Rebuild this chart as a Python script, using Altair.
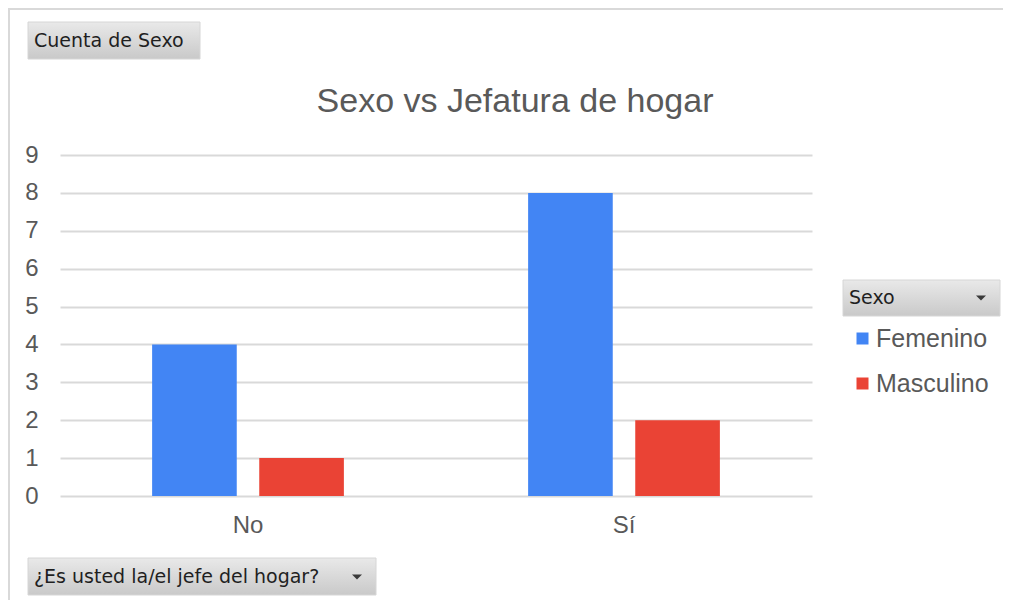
import altair as alt
import pandas as pd

# ---- data ----
jefe = ["No", "No", "Sí", "Sí"]
sexo = ["Femenino", "Masculino", "Femenino", "Masculino"]
cuenta = [4, 1, 8, 2]
categorias = ["No", "Sí"]
sexos = ["Femenino", "Masculino"]
colores = ["#4285F4", "#EA4335"]
y_ticks = [0, 1, 2, 3, 4, 5, 6, 7, 8, 9]
titulo = "Sexo vs Jefatura de hogar"
boton_valores = "Cuenta de Sexo"
boton_eje = "¿Es usted la/el jefe del hogar?"
boton_leyenda = "Sexo"

df = pd.DataFrame({"jefe": jefe, "sexo": sexo, "cuenta": cuenta})
one = pd.DataFrame({"k": [0]})

W, H = 752, 341
FONT = "Liberation Sans"
BFONT = "DejaVu Sans"
GRAY = "#595959"
grad = alt.LinearGradient(
    gradient="linear", x1=0, x2=0, y1=0, y2=1,
    stops=[alt.GradientStop(color="#e9e9e9", offset=0),
           alt.GradientStop(color="#c9c9c9", offset=1)],
)

bars = alt.Chart(df).mark_bar().encode(
    x=alt.X("jefe:N", sort=categorias,
            scale=alt.Scale(paddingInner=0.49, paddingOuter=0.245),
            axis=alt.Axis(title=None, labelAngle=0, domain=False, ticks=False,
                          labelFontSize=24, labelColor=GRAY, labelFont=FONT,
                          labelPadding=17)),
    xOffset=alt.XOffset("sexo:N", sort=sexos, scale=alt.Scale(paddingInner=0.21)),
    y=alt.Y("cuenta:Q", scale=alt.Scale(domain=[0, 9]),
            axis=alt.Axis(title=None, values=y_ticks, domain=False, ticks=False,
                          gridColor="#d9d9d9", gridWidth=2,
                          labelFontSize=24, labelColor=GRAY, labelFont=FONT,
                          labelPadding=22)),
    color=alt.Color("sexo:N", sort=sexos,
                    scale=alt.Scale(domain=sexos, range=colores),
                    legend=alt.Legend(title=None, orient="none", legendX=790, legendY=171,
                                      symbolType="square", symbolSize=144,
                                      symbolStrokeWidth=0, labelFontSize=25,
                                      labelFont=FONT, labelColor=GRAY, labelOffset=1,
                                      rowPadding=19, padding=0)),
)


def button(x1, x2, y1, y2):
    return alt.Chart(one).mark_rect(color=grad, stroke="#d6d6d6", strokeWidth=1).encode(
        x=alt.value(x1), x2=alt.value(x2), y=alt.value(y1), y2=alt.value(y2))


def label(txt, x, y):
    return alt.Chart(one).mark_text(text=txt, align="left", baseline="middle",
                                    font=BFONT, fontSize=19, color="#1f1f1f").encode(
        x=alt.value(x), y=alt.value(y))


def arrow(x, y):
    return alt.Chart(one).mark_point(shape="M -1 -0.5 L 1 -0.5 L 0 0.5 Z", filled=True,
                                     size=100, color="#3a3a3a", opacity=1).encode(
        x=alt.value(x), y=alt.value(y))


title = alt.Chart(one).mark_text(text=titulo, align="center", baseline="alphabetic",
                                 font=FONT, fontSize=34, color=GRAY).encode(
    x=alt.value(455), y=alt.value(-43))

border_top = alt.Chart(one).mark_rule(color="#d9d9d9", strokeWidth=2).encode(
    x=alt.value(-52), x2=alt.value(943), y=alt.value(-146))
border_left = alt.Chart(one).mark_rule(color="#d9d9d9", strokeWidth=2).encode(
    x=alt.value(-51), y=alt.value(-147), y2=alt.value(445))

chart = alt.layer(
    border_top, border_left,
    bars, title,
    button(-32, 140, -133, -96), label(boton_valores, -26, -114),
    button(-32, 316, 403, 440), label(boton_eje, -26, 422), arrow(297, 422),
    button(783, 940, 125, 161), label(boton_leyenda, 789, 143), arrow(921, 143),
).properties(
    width=W, height=H,
    autosize=alt.AutoSizeParams(type="none"),
    padding={"left": 52, "top": 147, "right": 191, "bottom": 104},
).configure_view(stroke=None)

chart.save("out.html", embed_options={"renderer": "svg", "actions": False})
